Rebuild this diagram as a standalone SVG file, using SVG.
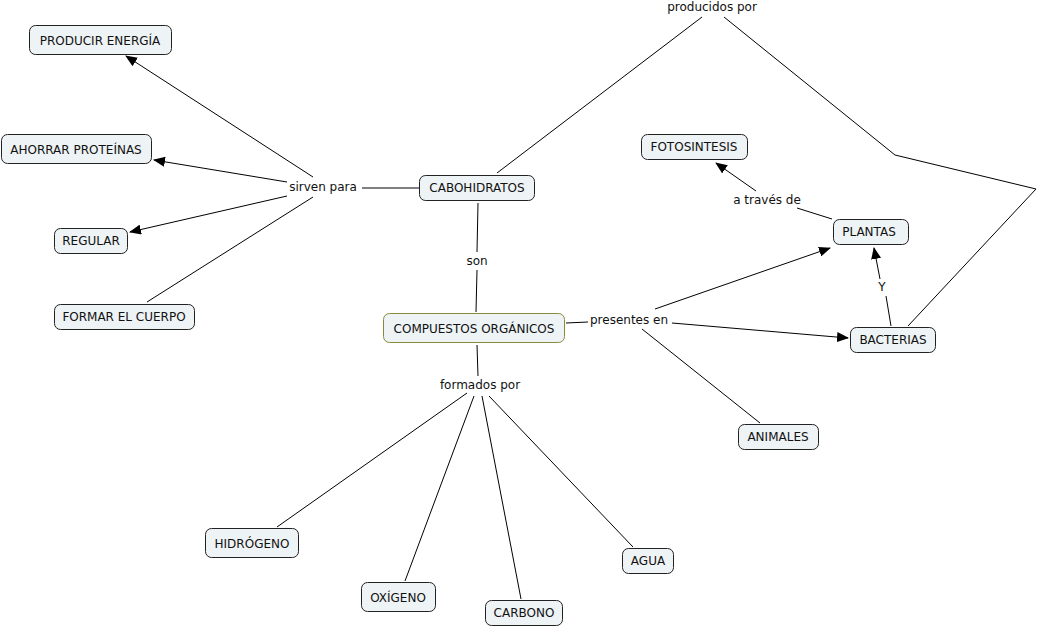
<svg xmlns="http://www.w3.org/2000/svg" width="1038" height="627" viewBox="0 0 1038 627">
<style>
.n{fill:#eef3f5;stroke:#222;stroke-width:1}
.o{fill:#eef3f5;stroke:#8a8a3c;stroke-width:1}
text{font-family:"DejaVu Sans",Verdana,sans-serif;font-size:12px;fill:#111;text-anchor:middle}
.c line,.c polyline{stroke:#000;stroke-width:1;fill:none}
</style>
<defs>
<marker id="a" viewBox="0 0 12 10" refX="11" refY="5" markerWidth="12" markerHeight="10" markerUnits="userSpaceOnUse" orient="auto">
<path d="M0,0L12,5L0,10z" fill="#000"/>
</marker>
</defs>
<rect width="1038" height="627" fill="#fff"/>
<g class="c">
<line x1="497" y1="173" x2="702" y2="17"/>
<polyline points="724,17 895,155 1036,189 908,326"/>
<line x1="419" y1="188" x2="362" y2="188"/>
<line x1="313" y1="177" x2="126" y2="56" marker-end="url(#a)"/>
<line x1="287" y1="182" x2="154" y2="160" marker-end="url(#a)"/>
<line x1="287" y1="196" x2="130" y2="232" marker-end="url(#a)"/>
<line x1="313" y1="197" x2="147" y2="302"/>
<line x1="478" y1="203" x2="477" y2="252"/>
<line x1="477" y1="270" x2="476" y2="312"/>
<line x1="566" y1="323" x2="588" y2="322"/>
<line x1="655" y1="309" x2="830" y2="248" marker-end="url(#a)"/>
<line x1="672" y1="323" x2="848" y2="338" marker-end="url(#a)"/>
<line x1="642" y1="329" x2="760" y2="423"/>
<line x1="477" y1="345" x2="478" y2="376"/>
<line x1="467" y1="393" x2="277" y2="527"/>
<line x1="474" y1="396" x2="405" y2="581"/>
<line x1="482" y1="396" x2="521" y2="599"/>
<line x1="489" y1="396" x2="633" y2="547"/>
<line x1="832" y1="219" x2="797" y2="208"/>
<line x1="756" y1="191" x2="716" y2="163" marker-end="url(#a)"/>
<line x1="891" y1="326" x2="886" y2="296"/>
<line x1="880" y1="279" x2="874" y2="248" marker-end="url(#a)"/>
</g>
<g id="lbl-producidos"><text x="712" y="11">producidos por</text></g>
<g id="lbl-sirven"><text x="323" y="191">sirven para</text></g>
<g id="lbl-son"><text x="477" y="265">son</text></g>
<g id="lbl-presentes"><text x="629" y="324">presentes en</text></g>
<g id="lbl-formados"><text x="480" y="389">formados por</text></g>
<g id="lbl-traves"><text x="767" y="204">a través de</text></g>
<g id="lbl-y"><text x="882" y="291">Y</text></g>
<g id="n-energia"><rect class="n" x="29.5" y="25.5" width="142" height="29" rx="6"/><text x="100" y="44.5">PRODUCIR ENERGÍA</text></g>
<g id="n-ahorrar"><rect class="n" x="1.5" y="134.5" width="150" height="29" rx="6"/><text x="76" y="153.5">AHORRAR PROTEÍNAS</text></g>
<g id="n-regular"><rect class="n" x="54.5" y="228.5" width="73" height="25" rx="6"/><text x="91" y="245">REGULAR</text></g>
<g id="n-formar"><rect class="n" x="54.5" y="304.5" width="140" height="25" rx="6"/><text x="124" y="321">FORMAR EL CUERPO</text></g>
<g id="n-cabo"><rect class="n" x="419.5" y="175.5" width="115" height="25" rx="6"/><text x="477" y="192">CABOHIDRATOS</text></g>
<g id="n-compuestos"><rect class="o" x="383.5" y="313.5" width="181" height="29" rx="6"/><text x="474" y="332.5">COMPUESTOS ORGÁNICOS</text></g>
<g id="n-foto"><rect class="n" x="641.5" y="134.5" width="106" height="25" rx="6"/><text x="694" y="151">FOTOSINTESIS</text></g>
<g id="n-plantas"><rect class="n" x="833.5" y="219.5" width="75" height="25" rx="6"/><text x="869" y="236">PLANTAS</text></g>
<g id="n-bacterias"><rect class="n" x="850.5" y="327.5" width="85" height="25" rx="6"/><text x="893" y="344">BACTERIAS</text></g>
<g id="n-animales"><rect class="n" x="738.5" y="424.5" width="80" height="25" rx="6"/><text x="778" y="441">ANIMALES</text></g>
<g id="n-hidrogeno"><rect class="n" x="205.5" y="528.5" width="93" height="29" rx="6"/><text x="252" y="547.5">HIDRÓGENO</text></g>
<g id="n-oxigeno"><rect class="n" x="361.5" y="582.5" width="74" height="29" rx="6"/><text x="398" y="601.5">OXÍGENO</text></g>
<g id="n-carbono"><rect class="n" x="485.5" y="600.5" width="77" height="25" rx="6"/><text x="524" y="617">CARBONO</text></g>
<g id="n-agua"><rect class="n" x="622.5" y="548.5" width="51" height="25" rx="6"/><text x="648" y="565">AGUA</text></g>
</svg>
